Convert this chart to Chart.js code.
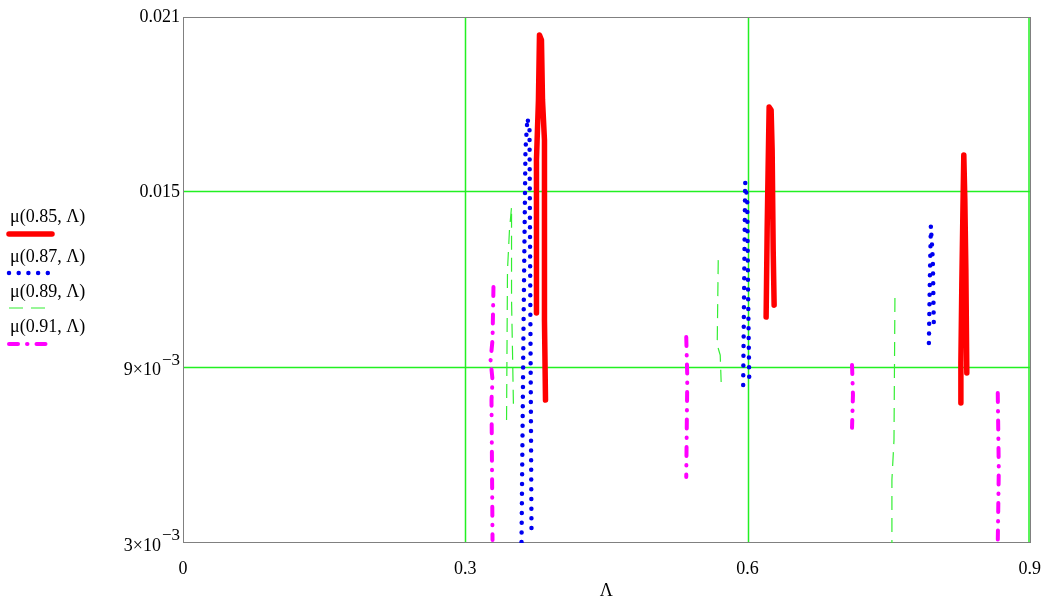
<!DOCTYPE html>
<html>
<head>
<meta charset="utf-8">
<script src="https://cdn.jsdelivr.net/npm/chart.js@4.4.0/dist/chart.umd.min.js"></script>
<style>
  html, body { margin: 0; padding: 0; background: #fff; }
  #wrap { width: 1048px; height: 599px; position: relative; }
</style>
</head>
<body>
<div id="wrap"><canvas id="myChart" width="1048" height="599"></canvas></div>
<script>
// axis ticks
const xTicks = [0, 0.3, 0.6, 0.9];
const xTickLabels = ["0", "0.3", "0.6", "0.9"];
const yTicks = [0.003, 0.009, 0.015, 0.021];
// [mantissa, exponent] - exponent empty for plain numbers
const yTickLabels = [["3×10", "−3"], ["9×10", "−3"], ["0.015", ""], ["0.021", ""]];

// series (null = gap between branches)
const lambda085 = [0.3757, 0.3757, 0.3778, 0.3789, 0.3810, 0.3821, 0.3842, 0.3842, 0.3853, null,
                   0.6198, 0.6209, 0.6219, 0.6230, 0.6251, 0.6262, 0.6273, 0.6283, null,
                   0.8268, 0.8268, 0.8278, 0.8289, 0.8299, 0.8310, 0.8321, 0.8331];
const mu085 = [0.01087, 0.01611, 0.01816, 0.02038, 0.02021, 0.01816, 0.01679, 0.01063, 0.00789, null,
               0.01073, 0.01371, 0.01576, 0.01792, 0.01782, 0.01645, 0.01303, 0.01114, null,
               0.00779, 0.00916, 0.01183, 0.01422, 0.01628, 0.01474, 0.01234, 0.00882];

const lambda087 = [0.3598, 0.3619, 0.3640, 0.3661, 0.3683, 0.3693, 0.3704, null,
                   0.5954, 0.5965, 0.5975, 0.5997, 0.6007, 0.6018, null,
                   0.7928, 0.7938, 0.7949, 0.7970, 0.7981];
const mu087 = [0.00303, 0.01029, 0.01645, 0.01754, 0.01713, 0.01029, 0.00351, null,
               0.00841, 0.01200, 0.01535, 0.01474, 0.01132, 0.00868, null,
               0.00984, 0.01200, 0.01385, 0.01268, 0.01032];

const lambda089 = [0.3439, 0.3449, 0.3470, 0.3492, 0.3492, 0.3502, 0.3513, null,
                   0.5689, 0.5678, 0.5710, 0.5720, null,
                   0.7567, 0.7557, 0.7535, 0.7535];
const mu089 = [0.00721, 0.01234, 0.01371, 0.01450, 0.01132, 0.00960, 0.00755, null,
               0.01268, 0.00978, 0.00943, 0.00851, null,
               0.01138, 0.00652, 0.00516, 0.00300];

const lambda091 = [0.3300, 0.3290, 0.3269, 0.3290, 0.3279, 0.3290, null,
                   0.5349, 0.5360, 0.5349, null,
                   0.7111, 0.7121, 0.7111, null,
                   0.8660, 0.8671, 0.8660];
const mu091 = [0.01176, 0.00995, 0.00926, 0.00858, 0.00789, 0.00310, null,
               0.01005, 0.00868, 0.00526, null,
               0.00909, 0.00806, 0.00694, null,
               0.00813, 0.00550, 0.00300];

const seriesLabels = ["μ(0.85, Λ)", "μ(0.87, Λ)", "μ(0.89, Λ)", "μ(0.91, Λ)"];

function toPoints(xs, ys) {
  return xs.map((x, i) => ({ x: x, y: ys[i] }));
}

const FONT = "'Liberation Serif', 'DejaVu Serif', serif";
const GRID = "#22f022";
const FRAME = "#808080";

// legend on the left, mathcad style: text with line sample underneath
const sideLegend = {
  id: "sideLegend",
  afterDraw(chart) {
    const c = chart.ctx;
    const textY = [217, 257, 292, 327];
    const lineY = [234, 273, 308, 344];
    c.save();
    chart.data.datasets.forEach((ds, i) => {
      c.font = "18px " + FONT;
      c.fillStyle = "#000";
      c.textBaseline = "middle";
      c.textAlign = "left";
      c.fillText(ds.label, 10, textY[i]);
      c.beginPath();
      c.strokeStyle = ds.borderColor;
      c.lineWidth = ds.borderWidth;
      c.lineCap = ds.borderCapStyle || "butt";
      c.setLineDash(ds.borderDash || []);
      c.moveTo(9, lineY[i]);
      c.lineTo(52, lineY[i]);
      c.stroke();
    });
    c.restore();
  }
};

// grid + frame, positioned through the scales
const gridFrame = {
  id: "gridFrame",
  beforeDatasetsDraw(chart) {
    const c = chart.ctx;
    const a = chart.chartArea;
    const sx = chart.scales.x, sy = chart.scales.y;
    const px = v => Math.round(sx.getPixelForValue(v)) + 0.5;
    const py = v => Math.round(sy.getPixelForValue(v)) - 0.5;
    const line = (x1, y1, x2, y2, col, w) => {
      c.beginPath();
      c.strokeStyle = col;
      c.lineWidth = w;
      c.moveTo(x1, y1);
      c.lineTo(x2, y2);
      c.stroke();
    };
    c.save();
    const right = px(xTicks[xTicks.length - 1]);
    // inner grid lines (the last x line sits just inside the frame)
    xTicks.slice(1, -1).forEach(v => line(px(v), a.top, px(v), a.bottom, GRID, 1.5));
    line(right - 1.5, a.top, right - 1.5, a.bottom, GRID, 1.5);
    yTicks.slice(1, -1).forEach(v => line(a.left, py(v), a.right, py(v), GRID, 1.5));
    // gray frame
    line(px(xTicks[0]), a.top, px(xTicks[0]), a.bottom, FRAME, 1);
    line(right, a.top, right, a.bottom, FRAME, 1);
    line(a.left, a.top + 0.5, right + 0.5, a.top + 0.5, FRAME, 1);
    line(a.left, py(yTicks[0]), right + 0.5, py(yTicks[0]), FRAME, 1);
    c.restore();
  },
  afterDraw(chart) {
    // y labels with raised exponent
    const c = chart.ctx;
    const y = chart.scales.y;
    const right = chart.chartArea.left - 3;
    c.save();
    c.fillStyle = "#000";
    c.textBaseline = "middle";
    c.textAlign = "left";
    yTicks.forEach((v, i) => {
      const py = y.getPixelForValue(v);
      const [m, e] = yTickLabels[i];
      c.font = "18px " + FONT;
      const wm = c.measureText(m).width;
      c.font = "17px " + FONT;
      const we = e ? c.measureText(e).width + 1 : 0;
      const x0 = right - wm - we;
      c.font = "18px " + FONT;
      c.fillText(m, x0, e ? py + 3 : py);
      if (e) {
        c.font = "17px " + FONT;
        c.fillText(e, x0 + wm + 1, py - 7);
      }
    });
    c.restore();
  }
};

const ctx = document.getElementById("myChart").getContext("2d");

new Chart(ctx, {
  type: "line",
  data: {
    datasets: [
      {
        label: seriesLabels[0],
        data: toPoints(lambda085, mu085),
        borderColor: "#ff0000",
        borderWidth: 5.5,
        borderCapStyle: "round",
        borderJoinStyle: "round"
      },
      {
        label: seriesLabels[1],
        data: toPoints(lambda087, mu087),
        borderColor: "#0000f0",
        borderWidth: 4.5,
        borderCapStyle: "round",
        borderDash: [0, 9.7]
      },
      {
        label: seriesLabels[2],
        data: toPoints(lambda089, mu089),
        borderColor: "#33ee33",
        borderWidth: 1.2,
        borderDash: [14, 8]
      },
      {
        label: seriesLabels[3],
        data: toPoints(lambda091, mu091),
        borderColor: "#ff00ff",
        borderWidth: 4,
        borderCapStyle: "round",
        borderDash: [9, 9, 0.5, 9]
      }
    ]
  },
  options: {
    responsive: false,
    animation: false,
    spanGaps: false,
    elements: { point: { radius: 0 }, line: { tension: 0 } },
    layout: { padding: { top: 17, right: 17, left: 0, bottom: 0 } },
    plugins: { legend: { display: false }, tooltip: { enabled: false } },
    scales: {
      x: {
        type: "linear",
        min: 0,
        max: 0.9,
        afterBuildTicks: s => { s.ticks = xTicks.map(v => ({ value: v })); },
        afterFit: s => { s.height = 56; },
        ticks: {
          callback: (v, i) => xTickLabels[i],
          font: { family: FONT, size: 18 },
          color: "#000",
          padding: 7,
          maxRotation: 0
        },
        grid: { display: false },
        border: { display: false },
        title: {
          display: true,
          text: "Λ",
          font: { family: FONT, size: 18 },
          color: "#000",
          padding: { top: 0, bottom: -3 }
        }
      },
      y: {
        type: "linear",
        min: 0.003,
        max: 0.021,
        afterBuildTicks: s => { s.ticks = yTicks.map(v => ({ value: v })); },
        afterFit: s => { s.width = 183; },
        ticks: { display: false },
        grid: { display: false },
        border: { display: false }
      }
    }
  },
  plugins: [sideLegend, gridFrame]
});
</script>
</body>
</html>
